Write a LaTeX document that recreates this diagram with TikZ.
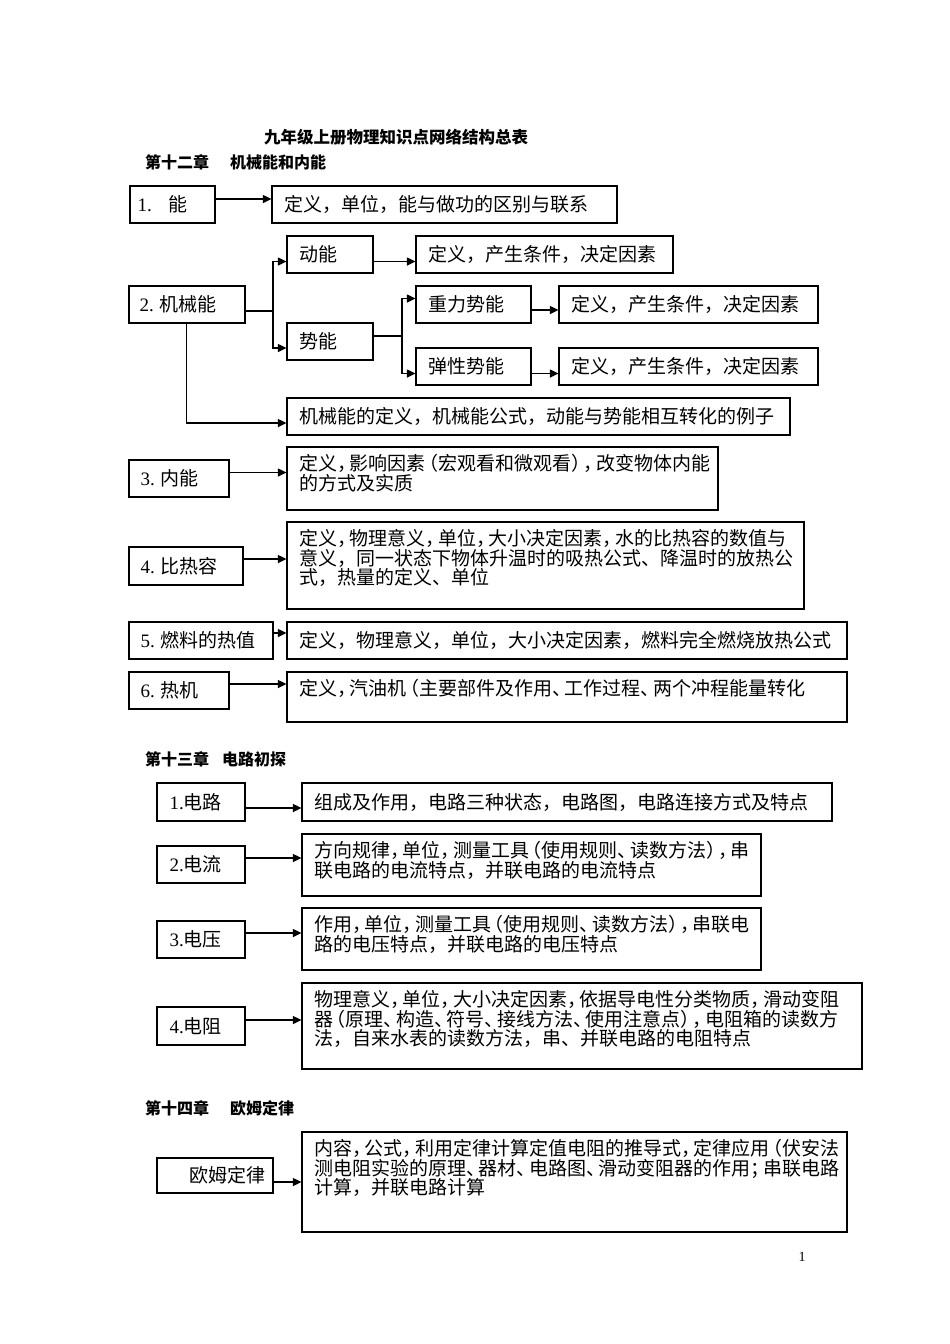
\documentclass[tikz,border=0pt]{standalone}
\usepackage{fontspec}
\setmainfont{Noto Sans CJK SC}
\newfontfamily\serifnum{Liberation Serif}
\usetikzlibrary{arrows.meta,fit,calc}
\newcommand\CP[2][l]{\makebox[0.65em][#1]{#2}}
\newcommand\Bx[5]{\node[boxst, fit={(#2,#3) (#4,#5)}] (#1) {};}
\tikzset{
  boxst/.style={draw, line width=1.2pt, inner sep=0pt},
  txt/.style={inner sep=0pt, font=\fontsize{19}{19.3}\selectfont},
  lbl/.style={txt, anchor=west},
  mtxt/.style={txt, anchor=north west, align=left},
  arr/.style={line width=1.2pt, -{Triangle[length=8.5pt,width=8pt]}},
  ln/.style={line width=1.2pt},
  head/.style={inner sep=0pt, anchor=west, font=\fontsize{16}{16}\selectfont\bfseries},
}
\begin{document}
\begin{tikzpicture}[x=1pt,y=-1pt]
\useasboundingbox (0,0) rectangle (950,1344);
\fill[white] (0,0) rectangle (950,1344);

% titles
\node[inner sep=0pt, font=\fontsize{16.5}{16.5}\selectfont\bfseries] (title) at (396,137) {九年级上册物理知识点网络结构总表};
\node[head] (h12) at (145,162) {第十二章\hspace{1.3em}机械能和内能};

% ---------- chapter 12 ----------
\Bx{n1}{130}{186}{215}{223}
\node[lbl] (n1t) at ([xshift=8pt]n1.west) {{\serifnum 1.}\hspace{0.9em}能};
\Bx{d1}{272}{186}{617}{223}
\node[lbl] (d1t) at ([xshift=13pt]d1.west) {定义，单位，能与做功的区别与联系};
\draw[arr] ($(n1.east)+(0,-5.5)$) -- ($(n1.east -| d1.west)+(0,-5.5)$);

\Bx{n2}{129}{286}{245}{323}
\node[lbl] (n2t) at ([xshift=11pt]n2.west) {{\serifnum 2.}\hspace{0.3em}机械能};
\Bx{dk}{287}{236}{373}{273}
\node[lbl] (dkt) at ([xshift=13pt]dk.west) {动能};
\Bx{dkd}{416}{236}{673}{273}
\node[lbl] (dkdt) at ([xshift=13pt]dkd.west) {定义，产生条件，决定因素};
\Bx{sn}{287}{323}{373}{360}
\node[lbl] (snt) at ([xshift=13pt]sn.west) {势能};
\Bx{zl}{416}{286}{531}{323}
\node[lbl] (zlt) at ([xshift=13pt]zl.west) {重力势能};
\Bx{zld}{559}{286}{818}{323}
\node[lbl] (zldt) at ([xshift=13pt]zld.west) {定义，产生条件，决定因素};
\Bx{tx}{416}{348}{531}{385}
\node[lbl] (txt1) at ([xshift=13pt]tx.west) {弹性势能};
\Bx{txd}{559}{348}{818}{385}
\node[lbl] (txdt) at ([xshift=13pt]txd.west) {定义，产生条件，决定因素};
\Bx{jx}{287}{398}{790}{435}
\node[lbl] (jxt) at ([xshift=13pt]jx.west) {机械能的定义，机械能公式，动能与势能相互转化的例子};

\coordinate (j1) at (273,311);
\coordinate (j2) at (402,336);
\draw[ln] ($(n2.east)+(0,6.5)$) -- (j1);
\draw[arr] (j1) |- ($(dk.west)+(0,7)$);
\draw[arr] (j1) |- ($(sn.west)+(0,6.5)$);
\draw[arr] ($(dk.east)+(0,7)$) -- ($(dk.east -| dkd.west)+(0,7)$);
\draw[ln] ($(sn.east)+(0,-5.5)$) -- (j2);
\draw[arr] (j2) |- ($(zl.west)+(0,-6)$);
\draw[arr] (j2) |- ($(tx.west)+(0,7)$);
\draw[arr] ($(zl.east)+(0,5.5)$) -- ($(zl.east -| zld.west)+(0,5.5)$);
\draw[arr] ($(tx.east)+(0,7)$) -- ($(tx.east -| txd.west)+(0,7)$);
\draw[arr] ($(n2.south west)+(58,0)$) |- ($(jx.west)+(0,6.5)$);

\Bx{n3}{129}{460}{229}{497}
\node[lbl] (n3t) at ([xshift=12pt]n3.west) {{\serifnum 3.}\hspace{0.3em}内能};
\Bx{d3}{287}{447}{718}{510}
\node[mtxt] (d3t) at ([xshift=13pt,yshift=-8pt]d3.north west) {定义\CP{，}影响因素\CP[r]{（}宏观看和微观看\CP{）}\CP{，}改变物体内能\\的方式及实质};
\draw[arr] ($(n3.east)+(0,-6)$) -- ($(n3.east -| d3.west)+(0,-6)$);

\Bx{n4}{129}{547}{243}{585}
\node[lbl] (n4t) at ([xshift=12pt]n4.west) {{\serifnum 4.}\hspace{0.3em}比热容};
\Bx{d4}{287}{522}{804}{609}
\node[mtxt] (d4t) at ([xshift=13pt,yshift=-8pt]d4.north west) {定义\CP{，}物理意义\CP{，}单位\CP{，}大小决定因素\CP{，}水的比热容的数值与\\意义，同一状态下物体升温时的吸热公式、降温时的放热公\\式，热量的定义、单位};
\draw[arr] ($(n4.east)+(0,-7)$) -- ($(n4.east -| d4.west)+(0,-7)$);

\Bx{n5}{129}{622}{273}{659}
\node[lbl] (n5t) at ([xshift=12pt]n5.west) {{\serifnum 5.}\hspace{0.3em}燃料的热值};
\Bx{d5}{287}{622}{847}{659}
\node[lbl] (d5t) at ([xshift=13pt]d5.west) {定义，物理意义，单位，大小决定因素，燃料完全燃烧放热公式};
\draw[arr] ($(n5.east)+(0,-7.5)$) -- ($(n5.east -| d5.west)+(0,-7.5)$);

\Bx{n6}{129}{672}{229}{709}
\node[lbl] (n6t) at ([xshift=12pt]n6.west) {{\serifnum 6.}\hspace{0.3em}热机};
\Bx{d6}{287}{672}{847}{722}
\node[mtxt] (d6t) at ([xshift=13pt,yshift=-8pt]d6.north west) {定义\CP{，}汽油机\CP[r]{（}主要部件及作用\CP{、}工作过程\CP{、}两个冲程能量转化};
\draw[arr] ($(n6.east)+(0,-6.5)$) -- ($(n6.east -| d6.west)+(0,-6.5)$);

% ---------- chapter 13 ----------
\node[head] (h13) at (145,759) {第十三章\hspace{0.8em}电路初探};

\Bx{c1}{157}{783}{245}{821}
\node[lbl] (c1t) at ([xshift=13pt]c1.west) {{\serifnum 1.}电路};
\Bx{e1}{302}{783}{832}{821}
\node[lbl] (e1t) at ([xshift=13pt]e1.west) {组成及作用，电路三种状态，电路图，电路连接方式及特点};
\draw[arr] ($(c1.east)+(0,6)$) -- ($(c1.east -| e1.west)+(0,6)$);

\Bx{c2}{157}{846}{245}{883}
\node[lbl] (c2t) at ([xshift=13pt]c2.west) {{\serifnum 2.}电流};
\Bx{e2}{302}{834}{761}{896}
\node[mtxt] (e2t) at ([xshift=13pt,yshift=-8pt]e2.north west) {方向规律\CP{，}单位\CP{，}测量工具\CP[r]{（}使用规则\CP{、}读数方法\CP{）}\CP{，}串\\联电路的电流特点，并联电路的电流特点};
\draw[arr] ($(c2.east)+(0,-6.5)$) -- ($(c2.east -| e2.west)+(0,-6.5)$);

\Bx{c3}{157}{921}{245}{958}
\node[lbl] (c3t) at ([xshift=13pt]c3.west) {{\serifnum 3.}电压};
\Bx{e3}{302}{908}{761}{970}
\node[mtxt] (e3t) at ([xshift=13pt,yshift=-8pt]e3.north west) {作用\CP{，}单位\CP{，}测量工具\CP[r]{（}使用规则\CP{、}读数方法\CP{）}\CP{，}串联电\\路的电压特点，并联电路的电压特点};
\draw[arr] ($(c3.east)+(0,-6.5)$) -- ($(c3.east -| e3.west)+(0,-6.5)$);

\Bx{c4}{157}{1007}{245}{1045}
\node[lbl] (c4t) at ([xshift=13pt]c4.west) {{\serifnum 4.}电阻};
\Bx{e4}{302}{983}{862}{1069}
\node[mtxt] (e4t) at ([xshift=13pt,yshift=-8pt]e4.north west) {物理意义\CP{，}单位\CP{，}大小决定因素\CP{，}依据导电性分类物质\CP{，}滑动变阻\\器\CP[r]{（}原理\CP{、}构造\CP{、}符号\CP{、}接线方法\CP{、}使用注意点\CP{）}\CP{，}电阻箱的读数方\\法，自来水表的读数方法，串、并联电路的电阻特点};
\draw[arr] ($(c4.east)+(0,-6)$) -- ($(c4.east -| e4.west)+(0,-6)$);

% ---------- chapter 14 ----------
\node[head] (h14) at (145,1108) {第十四章\hspace{1.3em}欧姆定律};

\Bx{om}{157}{1158}{273}{1193}
\node[lbl] (omt) at ([xshift=33pt]om.west) {欧姆定律};
\Bx{f1}{302}{1132}{847}{1232}
\node[mtxt] (f1t) at ([xshift=13pt,yshift=-8pt]f1.north west) {内容\CP{，}公式\CP{，}利用定律计算定值电阻的推导式\CP{，}定律应用\CP[r]{（}伏安法\\测电阻实验的原理\CP{、}器材\CP{、}电路图\CP{、}滑动变阻器的作用\CP{；}串联电路\\计算，并联电路计算};
\draw[arr] ($(om.east)+(0,6.5)$) -- ($(om.east -| f1.west)+(0,6.5)$);

\node[inner sep=0pt, font=\serifnum\fontsize{14}{14}\selectfont] (pg) at (802,1257) {1};
\end{tikzpicture}
\end{document}
